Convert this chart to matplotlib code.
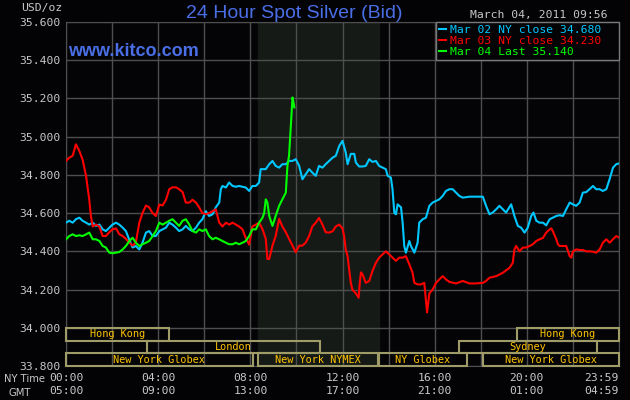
import matplotlib
matplotlib.use('Agg')
import matplotlib.pyplot as plt
import numpy as np
from matplotlib.patches import Rectangle

# --- data (hours after 00:00 NY time, USD/oz) ---
mar02_t = [0.00, 0.14, 0.29, 0.43, 0.58, 0.72, 0.87, 1.01, 1.16, 1.30, 1.45, 1.59, 1.73, 1.88,
           2.02, 2.17, 2.31, 2.46, 2.60, 2.75, 2.89, 3.03, 3.18, 3.32, 3.47, 3.61, 3.76, 3.90,
           4.05, 4.19, 4.34, 4.48, 4.62, 4.77, 4.91, 5.06, 5.20, 5.35, 5.49, 5.64, 5.78, 5.92,
           6.07, 6.21, 6.36, 6.50, 6.65, 6.72, 6.79, 6.94, 7.08, 7.23, 7.37, 7.51, 7.66, 7.80,
           7.95, 8.09, 8.24, 8.38, 8.45, 8.53, 8.67, 8.82, 8.96, 9.10, 9.25, 9.39, 9.54, 9.68,
           9.83, 9.97, 10.12, 10.26, 10.40, 10.55, 10.69, 10.84, 10.98, 11.13, 11.27, 11.42,
           11.57, 11.71, 11.86, 12.00, 12.14, 12.22, 12.36, 12.51, 12.58, 12.72, 12.87, 13.01,
           13.16, 13.30, 13.45, 13.59, 13.74, 13.88, 13.96, 14.10, 14.17, 14.25, 14.32, 14.39,
           14.54, 14.61, 14.68, 14.75, 14.90, 14.97, 15.12, 15.26, 15.33, 15.48, 15.62, 15.77,
           15.91, 16.06, 16.20, 16.35, 16.49, 16.64, 16.78, 16.93, 17.07, 17.22, 17.51, 17.80,
           18.09, 18.23, 18.38, 18.52, 18.67, 18.81, 18.96, 19.10, 19.32, 19.46, 19.61, 19.75,
           19.90, 20.04, 20.19, 20.29, 20.41, 20.55, 20.70, 20.84, 20.99, 21.13, 21.28, 21.42,
           21.57, 21.71, 21.86, 22.00, 22.14, 22.29, 22.43, 22.58, 22.72, 22.87, 23.01, 23.16,
           23.30, 23.45, 23.59, 23.74, 23.88, 24.00]
mar02_v = [34.550, 34.560, 34.550, 34.568, 34.576, 34.560, 34.550, 34.540, 34.550, 34.533, 34.540,
           34.515, 34.506, 34.524, 34.540, 34.550, 34.540, 34.524, 34.506, 34.460, 34.420, 34.428,
           34.410, 34.445, 34.498, 34.506, 34.480, 34.480, 34.506, 34.515, 34.524, 34.550, 34.540,
           34.524, 34.506, 34.515, 34.533, 34.515, 34.506, 34.524, 34.550, 34.568, 34.610, 34.585,
           34.594, 34.630, 34.655, 34.725, 34.742, 34.734, 34.760, 34.742, 34.738, 34.742, 34.738,
           34.734, 34.716, 34.742, 34.742, 34.760, 34.830, 34.830, 34.830, 34.856, 34.873, 34.847,
           34.838, 34.856, 34.856, 34.873, 34.873, 34.882, 34.847, 34.777, 34.803, 34.830, 34.812,
           34.795, 34.847, 34.838, 34.856, 34.873, 34.890, 34.900, 34.952, 34.978, 34.917, 34.856,
           34.910, 34.910, 34.865, 34.844, 34.844, 34.847, 34.882, 34.868, 34.873, 34.847, 34.838,
           34.830, 34.795, 34.786, 34.725, 34.600, 34.594, 34.646, 34.630, 34.550, 34.428, 34.393,
           34.454, 34.428, 34.393, 34.445, 34.550, 34.568, 34.576, 34.638, 34.655, 34.664, 34.672,
           34.690, 34.716, 34.725, 34.725, 34.707, 34.690, 34.681, 34.686, 34.686, 34.686, 34.638,
           34.594, 34.603, 34.620, 34.638, 34.620, 34.603, 34.646, 34.585, 34.533, 34.524, 34.498,
           34.524, 34.585, 34.603, 34.560, 34.550, 34.550, 34.536, 34.568, 34.576, 34.585, 34.589,
           34.585, 34.620, 34.655, 34.646, 34.638, 34.655, 34.707, 34.710, 34.725, 34.742, 34.725,
           34.725, 34.716, 34.725, 34.777, 34.838, 34.856, 34.860]

mar03_t = [0.00, 0.14, 0.29, 0.43, 0.58, 0.72, 0.87, 1.01, 1.08, 1.16, 1.30, 1.45, 1.59, 1.73,
           1.88, 2.02, 2.17, 2.31, 2.46, 2.60, 2.75, 2.89, 3.03, 3.18, 3.32, 3.47, 3.61, 3.76,
           3.90, 4.05, 4.19, 4.34, 4.48, 4.62, 4.77, 4.91, 5.06, 5.20, 5.35, 5.49, 5.64, 5.78,
           5.92, 6.07, 6.21, 6.36, 6.50, 6.65, 6.79, 6.94, 7.08, 7.23, 7.37, 7.51, 7.66, 7.80,
           7.95, 8.09, 8.24, 8.38, 8.53, 8.67, 8.74, 8.82, 8.96, 9.10, 9.25, 9.39, 9.54, 9.68,
           9.83, 9.97, 10.12, 10.26, 10.40, 10.55, 10.69, 10.84, 10.98, 11.13, 11.27, 11.42,
           11.57, 11.71, 11.86, 12.00, 12.07, 12.14, 12.22, 12.29, 12.36, 12.43, 12.58, 12.70,
           12.75, 12.80, 12.87, 13.01, 13.16, 13.30, 13.45, 13.59, 13.74, 13.88, 14.03, 14.17,
           14.32, 14.46, 14.61, 14.75, 14.90, 15.04, 15.12, 15.26, 15.41, 15.55, 15.62, 15.67,
           15.77, 15.91, 16.06, 16.20, 16.35, 16.49, 16.64, 16.93, 17.22, 17.51, 17.80, 18.09,
           18.23, 18.38, 18.67, 18.96, 19.25, 19.39, 19.46, 19.54, 19.68, 19.83, 19.97, 20.12,
           20.26, 20.41, 20.55, 20.70, 20.84, 20.99, 21.06, 21.13, 21.28, 21.35, 21.42, 21.57,
           21.71, 21.86, 21.93, 22.00, 22.14, 22.29, 22.43, 22.58, 22.72, 22.87, 23.01, 23.16,
           23.30, 23.45, 23.59, 23.74, 23.88, 24.00]
mar03_v = [34.873, 34.890, 34.900, 34.960, 34.925, 34.880, 34.795, 34.670, 34.585, 34.530, 34.540,
           34.530, 34.480, 34.480, 34.500, 34.515, 34.520, 34.490, 34.480, 34.465, 34.445, 34.430,
           34.445, 34.550, 34.600, 34.640, 34.630, 34.600, 34.585, 34.645, 34.640, 34.670, 34.725,
           34.735, 34.735, 34.725, 34.710, 34.655, 34.655, 34.670, 34.655, 34.630, 34.600, 34.595,
           34.600, 34.610, 34.620, 34.550, 34.530, 34.550, 34.540, 34.550, 34.540, 34.530, 34.515,
           34.470, 34.435, 34.530, 34.540, 34.550, 34.515, 34.465, 34.360, 34.360, 34.430, 34.480,
           34.570, 34.530, 34.500, 34.465, 34.430, 34.395, 34.430, 34.430, 34.445, 34.480, 34.530,
           34.550, 34.575, 34.540, 34.500, 34.498, 34.505, 34.530, 34.540, 34.520, 34.480, 34.410,
           34.375, 34.305, 34.235, 34.200, 34.180, 34.157, 34.235, 34.290, 34.280, 34.235, 34.245,
           34.297, 34.340, 34.367, 34.384, 34.400, 34.384, 34.367, 34.350, 34.367, 34.367, 34.375,
           34.332, 34.288, 34.235, 34.227, 34.227, 34.235, 34.148, 34.080, 34.180, 34.200, 34.235,
           34.253, 34.270, 34.253, 34.240, 34.232, 34.245, 34.232, 34.232, 34.235, 34.245, 34.262,
           34.270, 34.288, 34.314, 34.340, 34.410, 34.428, 34.400, 34.420, 34.420, 34.428, 34.437,
           34.454, 34.463, 34.470, 34.498, 34.515, 34.520, 34.505, 34.463, 34.437, 34.428, 34.428,
           34.428, 34.375, 34.367, 34.400, 34.410, 34.407, 34.407, 34.400, 34.400, 34.398, 34.393,
           34.410, 34.445, 34.463, 34.445, 34.463, 34.480, 34.472]

mar04_t = [0.00, 0.14, 0.29, 0.43, 0.58, 0.72, 0.87, 1.01, 1.16, 1.30, 1.45, 1.59, 1.73, 1.88,
           2.02, 2.17, 2.31, 2.46, 2.60, 2.75, 2.89, 3.03, 3.18, 3.32, 3.47, 3.61, 3.76, 3.90,
           4.05, 4.19, 4.34, 4.48, 4.62, 4.77, 4.91, 5.06, 5.20, 5.35, 5.49, 5.64, 5.78, 5.92,
           6.07, 6.21, 6.36, 6.50, 6.65, 6.79, 6.94, 7.08, 7.23, 7.37, 7.51, 7.66, 7.80, 7.95,
           8.09, 8.24, 8.38, 8.53, 8.60, 8.67, 8.74, 8.82, 8.96, 9.10, 9.25, 9.39, 9.54, 9.61,
           9.68, 9.75, 9.80, 9.83, 9.87, 9.91]
mar04_v = [34.463, 34.480, 34.489, 34.480, 34.484, 34.480, 34.489, 34.498, 34.463, 34.463, 34.454,
           34.428, 34.420, 34.393, 34.390, 34.393, 34.396, 34.410, 34.428, 34.454, 34.471, 34.445,
           34.428, 34.437, 34.445, 34.454, 34.480, 34.506, 34.550, 34.540, 34.550, 34.560, 34.568,
           34.550, 34.533, 34.560, 34.568, 34.540, 34.506, 34.498, 34.515, 34.506, 34.515, 34.480,
           34.463, 34.471, 34.463, 34.454, 34.445, 34.437, 34.437, 34.445, 34.437, 34.445, 34.454,
           34.480, 34.515, 34.515, 34.550, 34.576, 34.600, 34.672, 34.655, 34.585, 34.533, 34.585,
           34.638, 34.672, 34.707, 34.847, 34.900, 35.040, 35.144, 35.205, 35.180, 35.153]

series_labels = ['Mar 02 NY close', 'Mar 03 NY close', 'Mar 04 Last']
series_quotes = [34.680, 34.230, 35.140]
series_colors = ['#00c8ff', '#ff0000', '#00ff00']

# market sessions drawn at the bottom (row 0 = Asia, 1 = London/Sydney, 2 = New York)
sess_names = ['Hong Kong', 'London', 'New York Globex', 'New York NYMEX', 'NY Globex',
              'New York Globex', 'Sydney', 'Hong Kong']
sess_start = [0.0, 3.53, 0.0, 8.32, 13.60, 18.10, 17.06, 19.57]
sess_end = [4.49, 11.01, 8.10, 13.55, 17.39, 24.0, 23.03, 24.0]
sess_row = [0, 1, 2, 2, 2, 2, 1, 0]

ny_ticks = [0, 4, 8, 12, 16, 20, 24]
ny_labels = ['00:00', '04:00', '08:00', '12:00', '16:00', '20:00', '23:59']
gmt_labels = ['05:00', '09:00', '13:00', '17:00', '21:00', '01:00', '04:59']
# -------------------------------------------------------------------------

MONO = 'DejaVu Sans Mono'
GRID = '#4e4e4e'
TXT = '#c8c8c8'
BOX = '#a09c68'
GOLD = '#ffc400'
BLUE = '#4a6ee6'

fig = plt.figure(figsize=(6.3, 4), dpi=100, facecolor='#030305')
ax = fig.add_axes([66 / 630, 1 - 366 / 400, 553 / 630, 344 / 400])
ax.set_facecolor('#040406')
ax.set_xlim(0, 24)
ax.set_ylim(33.8, 35.6)

# NYMEX pit hours shading
ax.axvspan(sess_start[3], sess_end[3] + 0.05, color='#161a16', zorder=0)

ax.set_yticks(np.arange(33.8, 35.61, 0.2))
ax.set_yticklabels([f'{v:.3f}' for v in np.arange(33.8, 35.61, 0.2)])
ax.set_xticks(ny_ticks)
ax.set_xticklabels([f'{a}\n{b}' for a, b in zip(ny_labels, gmt_labels)])
ax.set_xticks(range(2, 24, 4), minor=True)
ax.grid(True, which='both', color=GRID, lw=1, zorder=1)
ax.set_axisbelow(True)
ax.tick_params(which='both', length=0, colors=TXT, labelsize=8.2)
ax.tick_params(axis='y', pad=4)
ax.tick_params(axis='x', pad=5)
for lbl in ax.get_xticklabels() + ax.get_yticklabels():
    lbl.set_family(MONO)
for lbl in ax.get_xticklabels():
    lbl.set_linespacing(1.4)
ax.get_xticklabels()[-1].set_ha('right')
for s in ax.spines.values():
    s.set_color(GRID)

# price lines
for t, v, c, lab, q in zip([mar02_t, mar03_t, mar04_t], [mar02_v, mar03_v, mar04_v],
                           series_colors, series_labels, series_quotes):
    ax.plot(t, v, color=c, lw=1.5, label=f'{lab} {q:.3f}', zorder=3)

# session boxes
row_h = 0.2 / 3
for name, a, b, r in zip(sess_names, sess_start, sess_end, sess_row):
    top = 34.0 - r * row_h
    ax.add_patch(Rectangle((a, top - row_h), b - a, row_h, fill=False, ec=BOX,
                           lw=1.5, zorder=4, clip_on=False))
    ax.text((a + b) / 2, top - row_h / 2, name, color=GOLD, family=MONO, fontsize=7.4,
            ha='center', va='center', zorder=5)

leg = ax.legend(loc='upper left', bbox_to_anchor=(0.669, 0, 0.331, 1.0), mode='expand',
                borderaxespad=0, prop={'family': MONO, 'size': 8.2}, labelcolor='linecolor',
                handlelength=0.6, handletextpad=0.35, labelspacing=0.1, borderpad=0.25,
                fancybox=False, edgecolor='#7a7a7a', facecolor='#040406', framealpha=1)
leg.get_frame().set_linewidth(1)
leg.set_zorder(6)

fig.text(294 / 630, 1 - 18.5 / 400, '24 Hour Spot Silver (Bid)', color=BLUE,
         family='Liberation Sans', fontsize=14, ha='center', va='baseline')
fig.text(68 / 630, 1 - 56 / 400, 'www.kitco.com', color=BLUE, family='Liberation Sans',
         fontsize=13, weight='bold', ha='left', va='baseline')
fig.text(62 / 630, 1 - 8 / 400, 'USD/oz', color=TXT, family=MONO, fontsize=8.2,
         ha='right', va='center')
fig.text(608 / 630, 1 - 15 / 400, 'March 04, 2011 09:56', color=TXT, family=MONO,
         fontsize=8.2, ha='right', va='center')
fig.text(45 / 630, 1 - 379 / 400, 'NY Time', color=TXT, family='DejaVu Sans', fontsize=7.2,
         ha='right', va='center')
fig.text(20 / 630, 1 - 393 / 400, 'GMT', color=TXT, family='DejaVu Sans', fontsize=7.2,
         ha='center', va='center')

fig.savefig('out.png', dpi=100, facecolor=fig.get_facecolor())
